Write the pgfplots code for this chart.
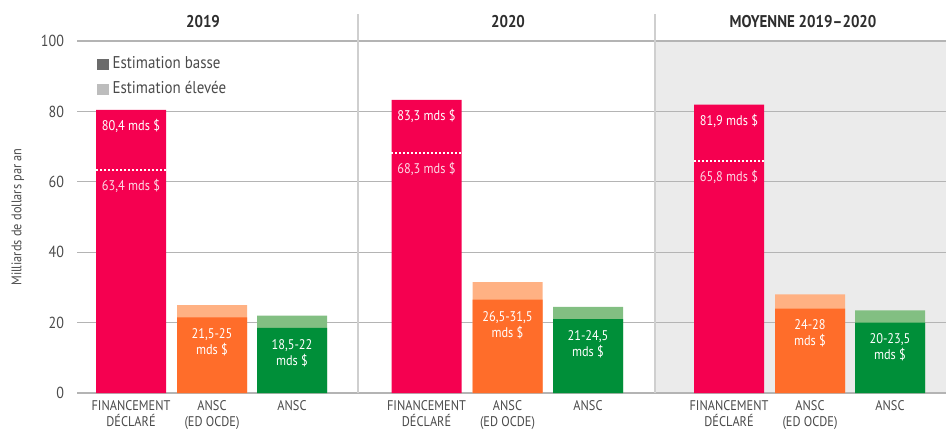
\documentclass[border=0pt]{standalone}
\usepackage{fontspec}
\setmainfont{PT Sans}[FakeStretch=0.88]
\usepackage{pgfplots}
\pgfplotsset{compat=1.18}

\definecolor{pinkc}{HTML}{F50050}
\definecolor{orangeD}{HTML}{FF6D2A}
\definecolor{orangeL}{HTML}{FFB183}
\definecolor{greenD}{HTML}{008F39}
\definecolor{greenL}{HTML}{82BF82}
\definecolor{legD}{HTML}{6B6B6B}
\definecolor{legL}{HTML}{BDBDBD}
\definecolor{bgc}{HTML}{EBEBEB}
\definecolor{gridc}{HTML}{B4B4B4}
\definecolor{divc}{HTML}{CFCFCF}
\definecolor{txt}{HTML}{4A4A4A}
\definecolor{titc}{HTML}{2E2E2E}

\newcommand\smallf{\fontsize{7}{8}\selectfont}

\begin{document}
\begin{tikzpicture}
\begin{axis}[
    set layers,
    scale only axis,
    width=434.5pt, height=176pt,
    xmin=77, xmax=946, ymin=0, ymax=100,
    clip=false,
    axis line style={draw=none},
    major tick length=0pt,
    ytick={0,20,...,100},
    ymajorgrids,
    grid style={draw=gridc, line width=0.6pt},
    xtick={131,212,292,426.5,507.5,588,729,810,890},
    xticklabels={{FINANCEMENT\\DÉCLARÉ},{ANSC\\(ED OCDE)},ANSC,
                 {FINANCEMENT\\DÉCLARÉ},{ANSC\\(ED OCDE)},ANSC,
                 {FINANCEMENT\\DÉCLARÉ},{ANSC\\(ED OCDE)},ANSC},
    xticklabel style={align=center, font=\smallf, text=txt},
    yticklabel style={font=\fontsize{8}{8}\selectfont, text=txt, xshift=-3pt},
    /pgf/number format/assume math mode=true,
    ylabel={Milliards de dollars par an},
    ylabel style={at={(axis description cs:-0.068,0.5)}, anchor=center,
                  font=\smallf, text=txt},
    legend style={at={(axis description cs:0.023,0.968)}, anchor=north west,
                  draw=none, fill=none, font=\fontsize{8.5}{10}\selectfont,
                  text=txt, row sep=1pt, inner sep=0pt},
    legend cell align=left,
    legend image code/.code={\fill[#1, draw=none] (0pt,-2.8pt) rectangle (5.6pt,2.8pt);},
]
\addlegendimage{fill=legD}
\addlegendentry{Estimation basse}
\addlegendimage{fill=legL}
\addlegendentry{Estimation élevée}

% shaded average panel
\addplot[fill=bgc, draw=none, forget plot, on layer=axis background]
  coordinates {(655,0) (655,100) (946,100) (946,0)} -- cycle;

% group dividers
\addplot[divc, line width=0.7pt, forget plot] coordinates {(358,0) (358,107.7)};
\addplot[divc, line width=0.7pt, forget plot] coordinates {(655,0) (655,107.7)};

% reported funding
\addplot[ybar, bar width=70, bar shift=0, fill=pinkc, draw=none, forget plot]
  coordinates {(131,80.4) (426.5,83.3) (729,81.9)};
% ANSC (ED OCDE): high then low
\addplot[ybar, bar width=70, bar shift=0, fill=orangeL, draw=none, forget plot]
  coordinates {(212,25) (507.5,31.5) (810,28)};
\addplot[ybar, bar width=70, bar shift=0, fill=orangeD, draw=none, forget plot]
  coordinates {(212,21.5) (507.5,26.5) (810,24)};
% ANSC: high then low
\addplot[ybar, bar width=70, bar shift=0, fill=greenL, draw=none, forget plot]
  coordinates {(292,22) (588,24.5) (890,23.5)};
\addplot[ybar, bar width=70, bar shift=0, fill=greenD, draw=none, forget plot]
  coordinates {(292,18.5) (588,21) (890,20)};

% low estimates of reported funding
\addplot[white, line width=1pt, dash pattern=on 1pt off 1pt, forget plot]
  coordinates {(96,63.4) (166,63.4)};
\addplot[white, line width=1pt, dash pattern=on 1pt off 1pt, forget plot]
  coordinates {(391,68.3) (462,68.3)};
\addplot[white, line width=1pt, dash pattern=on 1pt off 1pt, forget plot]
  coordinates {(694,65.8) (764,65.8)};

% titles
\node[font=\bfseries\fontsize{8.5}{9}\selectfont, text=titc] at (axis cs:203,105.6) {2019};
\node[font=\bfseries\fontsize{8.5}{9}\selectfont, text=titc] at (axis cs:508,105.6) {2020};
\node[font=\bfseries\fontsize{8.5}{9}\selectfont, text=titc] at (axis cs:803,105.6) {MOYENNE 2019–2020};

% bar labels
\tikzset{bl/.style={font=\smallf, text=white, anchor=north, align=center, inner sep=0pt, yshift=-4.5pt},
         bl2/.style={bl, yshift=-1pt}}
\node[bl] at (axis cs:131,80.4) {80,4 mds \$};
\node[bl, text=white!85!pinkc] at (axis cs:131,63.4) {63,4 mds \$};
\node[bl] at (axis cs:426.5,83.3) {83,3 mds \$};
\node[bl, text=white!85!pinkc] at (axis cs:426.5,68.3) {68,3 mds \$};
\node[bl] at (axis cs:729,81.9) {81,9 mds \$};
\node[bl, text=white!85!pinkc] at (axis cs:729,65.8) {65,8 mds \$};
\node[bl2] at (axis cs:212,21.5) {21,5-25\\mds \$};
\node[bl2] at (axis cs:507.5,26.5) {26,5-31,5\\mds \$};
\node[bl2] at (axis cs:810,24) {24-28\\mds \$};
\node[bl2] at (axis cs:292,18.5) {18,5-22\\mds \$};
\node[bl2] at (axis cs:588,21) {21-24,5\\mds \$};
\node[bl2] at (axis cs:890,20) {20-23,5\\mds \$};
\end{axis}
% picture is 946 x 430 px at 0.5pt per px
\pgfresetboundingbox
\useasboundingbox (-38.5pt,-18.5pt) rectangle (434.5pt,196.5pt);
\end{tikzpicture}
\end{document}
